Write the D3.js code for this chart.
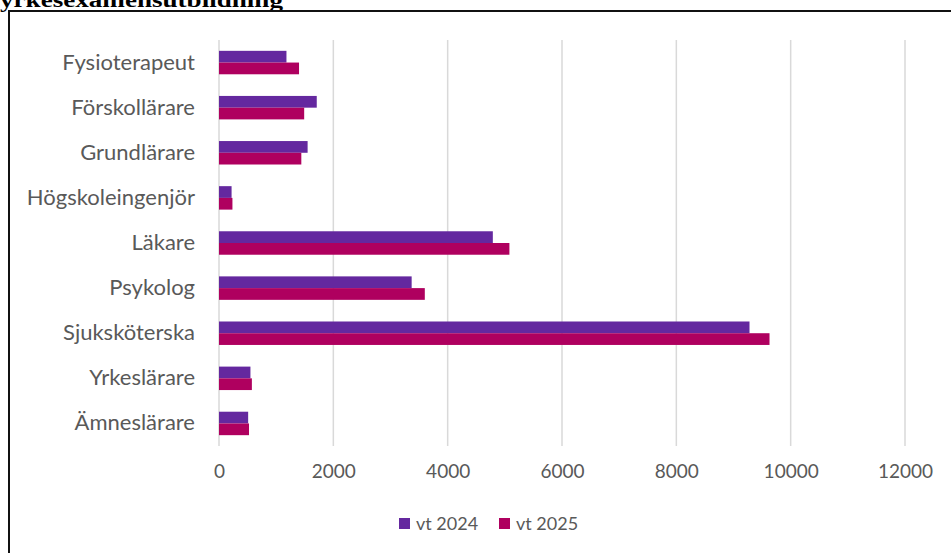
<!DOCTYPE html>
<html>
<head>
<meta charset="utf-8">
<script src="https://cdn.jsdelivr.net/npm/d3@7"></script>
<style>
  body { margin: 0; background: #fff; overflow: hidden; }
</style>
</head>
<body>
<div id="chart"></div>
<script>
const categories = ["Fysioterapeut", "Förskollärare", "Grundlärare", "Högskoleingenjör",
    "Läkare", "Psykolog", "Sjuksköterska", "Yrkeslärare", "Ämneslärare"];
const seriesNames = ["vt 2024", "vt 2025"];
const vt2024 = [1180, 1710, 1550, 220, 4790, 3370, 9280, 550, 510];
const vt2025 = [1400, 1490, 1440, 235, 5080, 3600, 9630, 575, 525];
const xTicks = [0, 2000, 4000, 6000, 8000, 10000, 12000];
const colors = ["#64289f", "#af005f"];

function drawSvg() {
    const W = 951, H = 553;
    const margin = { top: 40, right: 46, bottom: 107, left: 219 },
        width = W - margin.left - margin.right,
        height = H - margin.top - margin.bottom;
    const font = "Lato, sans-serif";

    const root = d3.select("#chart")
        .append("svg")
        .attr("width", W)
        .attr("height", H);

    // title, cut off at the top like the source
    root.append("text")
        .attr("x", 0)
        .attr("y", 7)
        .attr("font-family", "Liberation Serif, serif")
        .attr("font-weight", "bold")
        .attr("font-size", "20px")
        .attr("textLength", 283)
        .attr("lengthAdjust", "spacingAndGlyphs")
        .text("yrkesexamensutbildning");

    // chart frame (right and bottom run past the picture)
    root.append("rect")
        .attr("x", 9)
        .attr("y", 11)
        .attr("width", 960)
        .attr("height", 560)
        .attr("fill", "none")
        .attr("stroke", "#111")
        .attr("stroke-width", 2);

    const svg = root.append("g")
        .attr("transform", "translate(" + margin.left + "," + margin.top + ")");

    var x = d3.scaleLinear()
        .domain([0, 12000])
        .range([0, width]);

    var y = d3.scaleBand()
        .domain(categories)
        .range([0, height])
        .paddingInner(0.48)
        .paddingOuter(0.24);

    var ySub = d3.scaleBand()
        .domain(seriesNames)
        .range([0, y.bandwidth()]);

    // gridlines
    svg.append("g")
        .selectAll("line")
        .data(xTicks)
        .enter()
        .append("line")
        .attr("x1", d => x(d))
        .attr("x2", d => x(d))
        .attr("y1", 0)
        .attr("y2", height)
        .attr("stroke", "#d9d9d9")
        .attr("stroke-width", 1.5);

    // X axis
    const xAxis = svg.append("g")
        .attr("transform", "translate(0," + height + ")")
        .call(d3.axisBottom(x).tickValues(xTicks).tickFormat(d3.format("d")).tickSize(0).tickPadding(19));
    xAxis.select(".domain").remove();
    xAxis.selectAll("text")
        .attr("font-family", font)
        .attr("font-size", "19px")
        .attr("fill", "#595959");

    // Y axis
    const yAxis = svg.append("g")
        .call(d3.axisLeft(y).tickSize(0).tickPadding(24));
    yAxis.select(".domain").remove();
    yAxis.selectAll("text")
        .attr("font-family", font)
        .attr("font-size", "22px")
        .attr("fill", "#595959");

    // Bars
    const series = [vt2024, vt2025];
    series.forEach((vals, si) => {
        svg.selectAll("bar" + si)
            .data(categories)
            .enter()
            .append("rect")
            .attr("x", x(0))
            .attr("y", (c, i) => y(c) + ySub(seriesNames[si]))
            .attr("width", (c, i) => x(vals[i]) - x(0))
            .attr("height", ySub.bandwidth())
            .attr("fill", colors[si]);
    });

    // Legend
    const legend = root.append("g")
        .attr("transform", "translate(399,518)");
    const lx = [0, 100];
    seriesNames.forEach((s, i) => {
        legend.append("rect")
            .attr("x", lx[i])
            .attr("y", 0)
            .attr("width", 11)
            .attr("height", 11)
            .attr("fill", colors[i]);
        legend.append("text")
            .attr("x", lx[i] + 17)
            .attr("y", 5.5)
            .attr("dy", "0.35em")
            .attr("font-family", font)
            .attr("font-size", "18px")
            .attr("fill", "#595959")
            .text(s);
    });
}

drawSvg();
</script>
</body>
</html>
